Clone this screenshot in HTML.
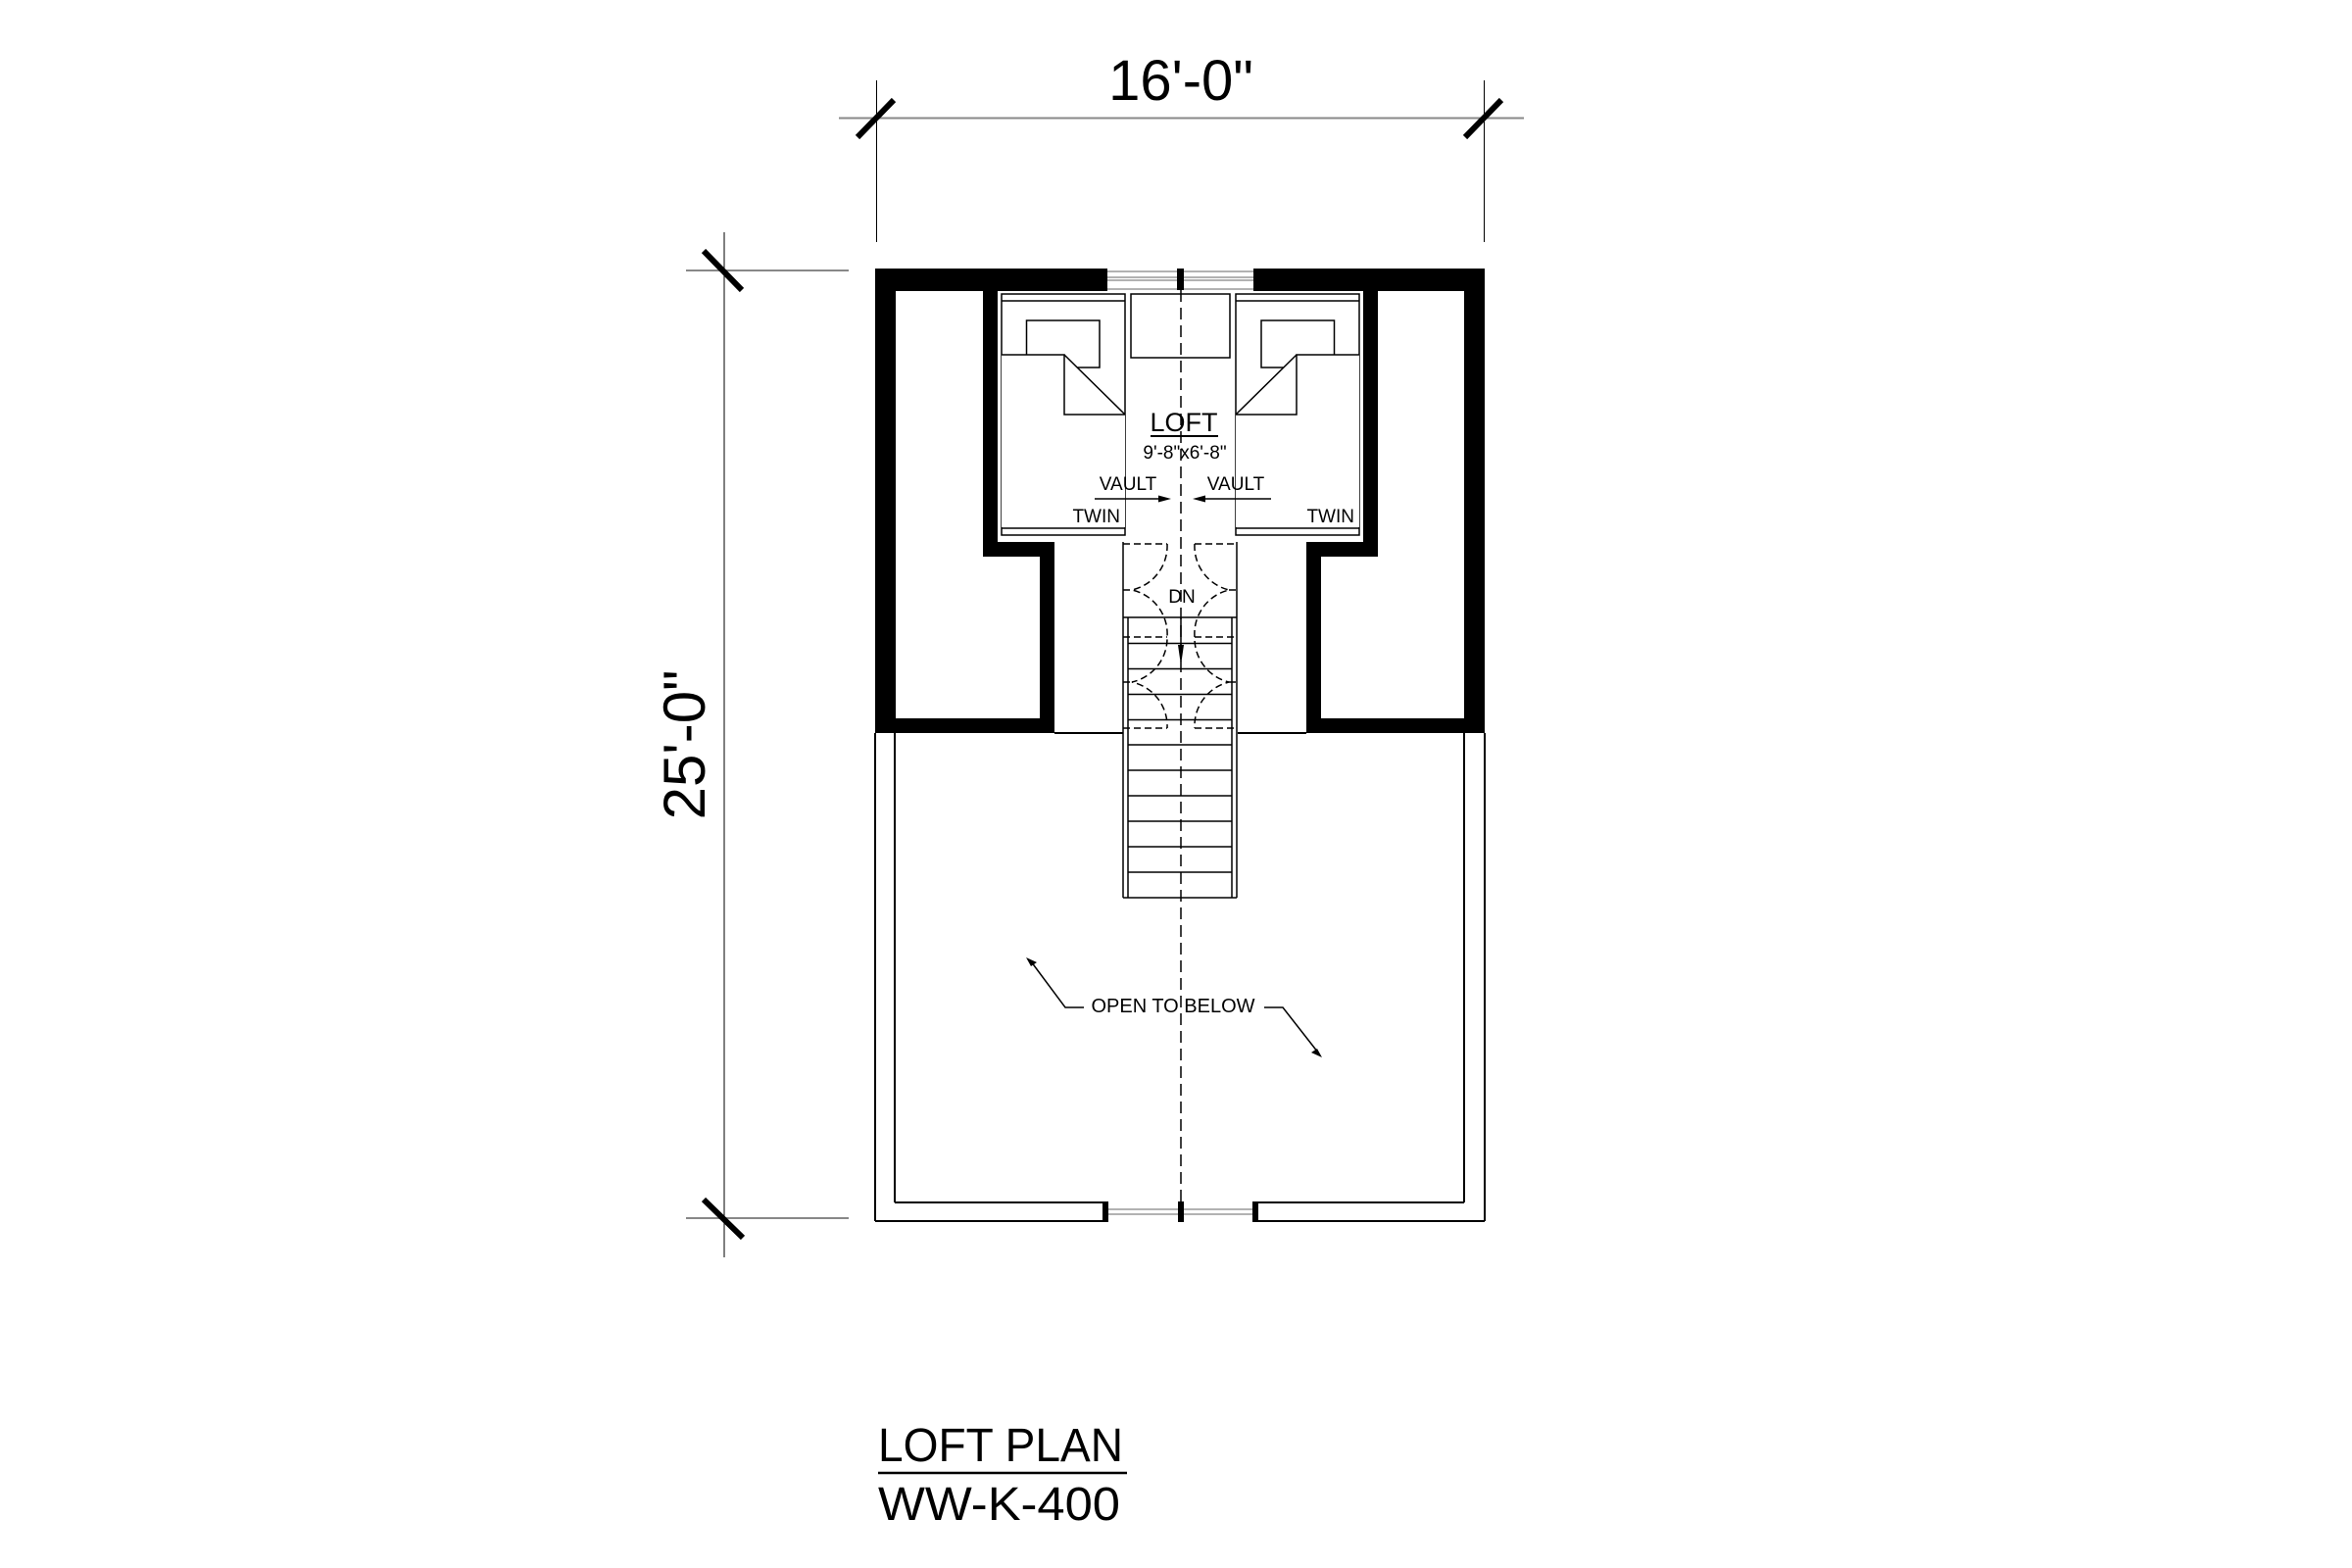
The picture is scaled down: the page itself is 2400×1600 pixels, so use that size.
<!DOCTYPE html>
<html><head><meta charset="utf-8"><style>
html,body{margin:0;padding:0;background:#fff;}
svg{display:block;}
text{font-family:"Liberation Sans",sans-serif;fill:#000;}
</style></head><body>
<svg width="2400" height="1600" viewBox="0 0 2400 1600" xmlns="http://www.w3.org/2000/svg">
<rect width="2400" height="1600" fill="#fff"/>
<!-- dimensions -->
<g stroke="#000" fill="none">
  <line x1="856" y1="120.5" x2="1555" y2="120.5" stroke="#888" stroke-width="2"/>
  <line x1="894.5" y1="82" x2="894.5" y2="247" stroke-width="1"/>
  <line x1="1514.5" y1="82" x2="1514.5" y2="247" stroke-width="1"/>
  <line x1="875" y1="140" x2="912" y2="102" stroke-width="6"/>
  <line x1="1495" y1="140" x2="1532" y2="102" stroke-width="6"/>
  <line x1="700" y1="276" x2="866" y2="276" stroke="#888" stroke-width="2"/>
  <line x1="700" y1="1243" x2="866" y2="1243" stroke="#888" stroke-width="2"/>
  <line x1="739" y1="237" x2="739" y2="1283" stroke-width="1"/>
  <line x1="718" y1="256" x2="757" y2="296" stroke-width="6"/>
  <line x1="718" y1="1224" x2="758" y2="1263" stroke-width="6"/>
</g>
<text x="1205" y="102" font-size="58" text-anchor="middle">16'-0"</text>
<text transform="translate(719,760) rotate(-90)" x="0" y="0" font-size="60" text-anchor="middle">25'-0"</text>

<!-- lower room thin walls -->
<g stroke="#000" stroke-width="2" fill="none">
  <line x1="893" y1="748" x2="893" y2="1246"/>
  <line x1="913" y1="748" x2="913" y2="1227"/>
  <line x1="1515" y1="748" x2="1515" y2="1246"/>
  <line x1="1494" y1="748" x2="1494" y2="1227"/>
  <line x1="913" y1="1227" x2="1128" y2="1227"/>
  <line x1="1281" y1="1227" x2="1494" y2="1227"/>
  <line x1="893" y1="1246" x2="1128" y2="1246"/>
  <line x1="1281" y1="1246" x2="1515" y2="1246"/>
  <line x1="1076" y1="748" x2="1146" y2="748"/>
  <line x1="1263" y1="748" x2="1333" y2="748"/>
</g>
<g stroke="#999" stroke-width="1.5">
  <line x1="1128" y1="1234" x2="1281" y2="1234"/>
  <line x1="1128" y1="1239" x2="1281" y2="1239"/>
</g>
<rect x="1125" y="1226" width="6" height="21" fill="#000"/>
<rect x="1202" y="1226" width="6" height="21" fill="#000"/>
<rect x="1278" y="1226" width="6" height="21" fill="#000"/>

<!-- top window -->
<g stroke="#999" stroke-width="1.5">
  <line x1="1130" y1="277" x2="1279" y2="277"/>
  <line x1="1130" y1="283" x2="1279" y2="283"/>
  <line x1="1130" y1="286" x2="1279" y2="286"/>
  <line x1="1130" y1="295" x2="1279" y2="295"/>
</g>
<rect x="1201" y="274" width="7" height="22" fill="#000"/>

<!-- heavy walls -->
<g fill="#000">
  <rect x="893" y="274" width="237" height="23"/>
  <rect x="1279" y="274" width="236" height="23"/>
  <rect x="893" y="274" width="21" height="474"/>
  <rect x="1494" y="274" width="21" height="474"/>
  <rect x="893" y="733" width="183" height="15"/>
  <rect x="1333" y="733" width="182" height="15"/>
  <rect x="1061" y="553" width="15" height="195"/>
  <rect x="1333" y="553" width="15" height="195"/>
  <rect x="1003" y="553" width="73" height="15"/>
  <rect x="1333" y="553" width="73" height="15"/>
  <rect x="1003" y="274" width="15" height="294"/>
  <rect x="1391" y="274" width="15" height="294"/>
</g>

<!-- beds -->
<g stroke="#000" stroke-width="1.5" fill="none">
  <rect x="1022" y="300" width="126" height="246"/>
  <line x1="1022" y1="307" x2="1148" y2="307"/>
  <line x1="1022" y1="539" x2="1148" y2="539"/>
  <rect x="1047.5" y="327" width="74.5" height="48"/>
  <polygon points="1022,362 1086,362 1148,423 1148,538 1022,538" fill="#fff" stroke="none"/>
  <polyline points="1022,362 1086,362 1086,423 1148,423"/>
  <line x1="1086" y1="362" x2="1148" y2="423"/>
</g>
<g transform="translate(2409,0) scale(-1,1)" stroke="#000" stroke-width="1.5" fill="none">
  <rect x="1022" y="300" width="126" height="246"/>
  <line x1="1022" y1="307" x2="1148" y2="307"/>
  <line x1="1022" y1="539" x2="1148" y2="539"/>
  <rect x="1047.5" y="327" width="74.5" height="48"/>
  <polygon points="1022,362 1086,362 1148,423 1148,538 1022,538" fill="#fff" stroke="none"/>
  <polyline points="1022,362 1086,362 1086,423 1148,423"/>
  <line x1="1086" y1="362" x2="1148" y2="423"/>
</g>
<rect x="1154" y="300" width="101" height="65" fill="none" stroke="#000" stroke-width="1.5"/>

<!-- stair -->
<g stroke="#000" stroke-width="1.5" fill="none">
  <line x1="1146" y1="553" x2="1146" y2="916"/>
  <line x1="1262" y1="553" x2="1262" y2="916"/>
  <line x1="1151" y1="630" x2="1151" y2="916"/>
  <line x1="1257" y1="630" x2="1257" y2="916"/>
  <line x1="1146" y1="916" x2="1262" y2="916"/>
  <line x1="1146" y1="630" x2="1262" y2="630"/>
  <line x1="1151" y1="656.5" x2="1257" y2="656.5"/>
  <line x1="1151" y1="682.5" x2="1257" y2="682.5"/>
  <line x1="1151" y1="708.5" x2="1257" y2="708.5"/>
  <line x1="1151" y1="734.5" x2="1257" y2="734.5"/>
  <line x1="1151" y1="760" x2="1257" y2="760"/>
  <line x1="1151" y1="786" x2="1257" y2="786"/>
  <line x1="1151" y1="812" x2="1257" y2="812"/>
  <line x1="1151" y1="838" x2="1257" y2="838"/>
  <line x1="1151" y1="864" x2="1257" y2="864"/>
  <line x1="1151" y1="890" x2="1257" y2="890"/>
</g>
<g stroke="#000" stroke-width="1.5" fill="none" stroke-dasharray="7,4">
  <line x1="1146" y1="555" x2="1191" y2="555"/>
  <line x1="1219" y1="555" x2="1262" y2="555"/>
  <line x1="1146" y1="650" x2="1191" y2="650"/>
  <line x1="1219" y1="650" x2="1262" y2="650"/>
  <line x1="1146" y1="743" x2="1191" y2="743"/>
  <line x1="1219" y1="743" x2="1262" y2="743"/>
  <line x1="1146" y1="602" x2="1155" y2="602"/>
  <line x1="1254" y1="602" x2="1262" y2="602"/>
  <line x1="1146" y1="696" x2="1155" y2="696"/>
  <line x1="1254" y1="696" x2="1262" y2="696"/>
  <path d="M1191,555 A46,46 0 0 1 1155,602 A46,46 0 0 1 1191,650 A46,46 0 0 1 1155,696 A46,46 0 0 1 1191,743"/>
  <path d="M1219,555 A46,46 0 0 0 1254,602 A46,46 0 0 0 1219,650 A46,46 0 0 0 1254,696 A46,46 0 0 0 1219,743"/>
</g>
<!-- center dashed line -->
<line x1="1205" y1="296" x2="1205" y2="1228" stroke="#000" stroke-width="1.5" stroke-dasharray="12,6"/>
<line x1="1205" y1="630" x2="1205" y2="660" stroke="#000" stroke-width="1.5"/>
<polygon points="1202,658 1208,658 1205,679" fill="#000"/>

<!-- labels -->
<text x="1208" y="440" font-size="27" text-anchor="middle">LOFT</text>
<line x1="1174" y1="445" x2="1243" y2="445" stroke="#000" stroke-width="2"/>
<text x="1209" y="468" font-size="19" text-anchor="middle">9'-8"x6'-8"</text>
<text x="1151" y="500" font-size="19" text-anchor="middle">VAULT</text>
<text x="1261" y="500" font-size="19" text-anchor="middle">VAULT</text>
<line x1="1117" y1="509" x2="1185" y2="509" stroke="#000" stroke-width="1.5"/>
<polygon points="1182,505.5 1182,512.5 1195,509" fill="#000"/>
<line x1="1297" y1="509" x2="1227" y2="509" stroke="#000" stroke-width="1.5"/>
<polygon points="1230,505.5 1230,512.5 1217,509" fill="#000"/>
<text x="1143" y="533" font-size="19" text-anchor="end">TWIN</text>
<text x="1382" y="533" font-size="19" text-anchor="end">TWIN</text>
<text x="1206" y="615" font-size="19" text-anchor="middle">DN</text>

<text x="1197" y="1033" font-size="20" text-anchor="middle">OPEN TO BELOW</text>
<g stroke="#000" stroke-width="1.5" fill="none">
  <polyline points="1106,1028 1087,1028 1052,981"/>
  <polyline points="1290,1028 1309,1028 1345,1074"/>
</g>
<polygon points="1047,977 1058,982 1052,986" fill="#000"/>
<polygon points="1349,1079 1338,1074 1344,1070" fill="#000"/>

<!-- title -->
<text x="896" y="1491" font-size="48" textLength="250" lengthAdjust="spacingAndGlyphs">LOFT PLAN</text>
<line x1="896" y1="1503" x2="1150" y2="1503" stroke="#000" stroke-width="2.5"/>
<text x="896" y="1551" font-size="48" textLength="247" lengthAdjust="spacingAndGlyphs">WW-K-400</text>
</svg>
</body></html>
